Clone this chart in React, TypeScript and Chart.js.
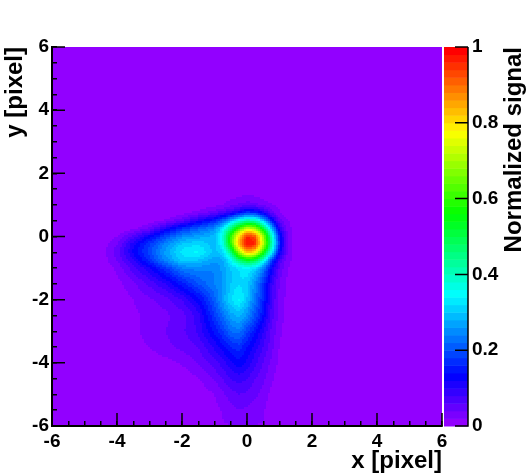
import React, { useEffect, useRef } from "react";
import { Chart, registerables } from "chart.js";

Chart.register(...registerables);

const gridX = [-5, -4.5, -4, -3.5, -3, -2.5, -2, -1.5, -1, -0.75, -0.5, -0.25, 0, 0.25, 0.5, 0.75, 1, 1.25, 1.5, 2];
const gridY = [1.5, 1, 0.75, 0.5, 0.25, 0, -0.25, -0.5, -0.75, -1, -1.5, -2, -2.5, -3, -3.5, -4, -4.5, -5, -5.5, -6];
const signal = [
  [0, 0, 0, 0, 0, 0, 0, 0, 0, 0, 0, 0, 0.005, 0, 0, 0, 0, 0, 0, 0],
  [0, 0, 0, 0, 0, 0, 0, 0.005, 0.012, 0.018, 0.03, 0.04, 0.05, 0.045, 0.03, 0.022, 0.012, 0.005, 0, 0],
  [0, 0, 0, 0, 0, 0, 0.01, 0.025, 0.05, 0.07, 0.09, 0.13, 0.17, 0.16, 0.11, 0.05, 0.022, 0.01, 0.005, 0],
  [0, 0, 0, 0, 0.006, 0.02, 0.055, 0.11, 0.16, 0.21, 0.29, 0.37, 0.43, 0.41, 0.3, 0.15, 0.045, 0.02, 0.01, 0],
  [0, 0, 0.002, 0.012, 0.04, 0.11, 0.17, 0.21, 0.25, 0.33, 0.47, 0.62, 0.74, 0.71, 0.53, 0.3, 0.1, 0.028, 0.01, 0],
  [0, 0.002, 0.018, 0.07, 0.13, 0.19, 0.25, 0.27, 0.29, 0.37, 0.6, 0.82, 0.98, 0.94, 0.7, 0.42, 0.15, 0.035, 0.01, 0],
  [0, 0.005, 0.04, 0.115, 0.18, 0.25, 0.31, 0.32, 0.29, 0.35, 0.6, 0.85, 1, 0.97, 0.73, 0.43, 0.16, 0.035, 0.01, 0],
  [0, 0.006, 0.05, 0.125, 0.19, 0.27, 0.33, 0.35, 0.29, 0.31, 0.44, 0.7, 0.85, 0.8, 0.59, 0.35, 0.13, 0.035, 0.012, 0],
  [0, 0.005, 0.04, 0.1, 0.17, 0.25, 0.31, 0.3, 0.265, 0.275, 0.34, 0.46, 0.54, 0.5, 0.38, 0.19, 0.07, 0.028, 0.01, 0],
  [0, 0.002, 0.025, 0.07, 0.115, 0.175, 0.24, 0.25, 0.24, 0.265, 0.3, 0.32, 0.34, 0.31, 0.24, 0.13, 0.055, 0.02, 0.008, 0],
  [0, 0, 0.012, 0.035, 0.065, 0.1, 0.15, 0.2, 0.24, 0.26, 0.3, 0.32, 0.31, 0.25, 0.17, 0.09, 0.035, 0.015, 0.005, 0],
  [0, 0, 0.004, 0.02, 0.035, 0.05, 0.08, 0.13, 0.21, 0.27, 0.32, 0.35, 0.3, 0.23, 0.16, 0.08, 0.035, 0.012, 0.005, 0],
  [0, 0, 0, 0.015, 0.025, 0.035, 0.05, 0.09, 0.18, 0.225, 0.27, 0.29, 0.255, 0.195, 0.14, 0.07, 0.03, 0.012, 0.003, 0],
  [0, 0, 0, 0.014, 0.03, 0.04, 0.055, 0.085, 0.145, 0.18, 0.22, 0.235, 0.185, 0.145, 0.1, 0.055, 0.025, 0.008, 0, 0],
  [0, 0, 0, 0.006, 0.022, 0.035, 0.045, 0.06, 0.105, 0.13, 0.16, 0.172, 0.14, 0.11, 0.078, 0.048, 0.018, 0.005, 0, 0],
  [0, 0, 0, 0, 0.002, 0.012, 0.022, 0.042, 0.072, 0.09, 0.115, 0.135, 0.115, 0.085, 0.06, 0.035, 0.014, 0.003, 0, 0],
  [0, 0, 0, 0, 0, 0.002, 0.006, 0.018, 0.042, 0.06, 0.08, 0.09, 0.08, 0.06, 0.045, 0.024, 0.009, 0, 0, 0],
  [0, 0, 0, 0, 0, 0, 0, 0.005, 0.02, 0.035, 0.05, 0.06, 0.055, 0.045, 0.03, 0.015, 0.005, 0, 0, 0],
  [0, 0, 0, 0, 0, 0, 0, 0, 0.012, 0.022, 0.03, 0.04, 0.035, 0.03, 0.022, 0.01, 0.002, 0, 0, 0],
  [0, 0, 0, 0, 0, 0, 0, 0, 0.008, 0.018, 0.025, 0.03, 0.028, 0.025, 0.02, 0.008, 0, 0, 0, 0],
];

const xMajorTicks = [-6, -4, -2, 0, 2, 4, 6];
const yMajorTicks = [-6, -4, -2, 0, 2, 4, 6];
const zTicks = [0, 0.2, 0.4, 0.6, 0.8, 1];
const xTitle = "x [pixel]";
const yTitle = "y [pixel]";
const zTitle = "Normalized signal";
const PALETTE_SIZE = 50;

const FONT = "'Liberation Sans', Arial, sans-serif";

function paletteColor(i: number) {
  return `hsl(${280 - ((i + 1) * 280) / PALETTE_SIZE}, 100%, 50%)`;
}

function bracket(nodes: number[], v: number) {
  const asc = nodes[0] < nodes[nodes.length - 1];
  for (let i = 0; i < nodes.length - 1; i++) {
    const a = nodes[i];
    const b = nodes[i + 1];
    if (asc ? v >= a && v <= b : v <= a && v >= b) return { i, t: (v - a) / (b - a) };
  }
  return null;
}

function sample(x: number, y: number) {
  const bx = bracket(gridX, x);
  const by = bracket(gridY, y);
  if (!bx || !by) return 0;
  const r0 = signal[by.i];
  const r1 = signal[by.i + 1];
  const a = r0[bx.i] * (1 - bx.t) + r0[bx.i + 1] * bx.t;
  const b = r1[bx.i] * (1 - bx.t) + r1[bx.i + 1] * bx.t;
  return a * (1 - by.t) + b * by.t;
}

function smoothSample(x: number, y: number) {
  const d = 0.1;
  return (
    (2 * sample(x, y) + sample(x - d, y) + sample(x + d, y) + sample(x, y - d) + sample(x, y + d)) / 6
  );
}

const heatmapPlugin = {
  id: "heatmap",
  beforeDatasetsDraw(chart: any) {
    const { ctx, chartArea: a, scales } = chart;
    const sx = scales.x;
    const sy = scales.y;
    ctx.save();
    ctx.fillStyle = paletteColor(0);
    ctx.fillRect(a.left, a.top, a.right - a.left, a.bottom - a.top);
    const step = 2;
    for (let py = a.top; py < a.bottom; py += step) {
      for (let px = a.left; px < a.right; px += step) {
        const v = smoothSample(sx.getValueForPixel(px + step / 2), sy.getValueForPixel(py + step / 2));
        const bin = Math.min(PALETTE_SIZE - 1, Math.floor(v * PALETTE_SIZE));
        if (bin > 0) {
          ctx.fillStyle = paletteColor(bin);
          ctx.fillRect(px, py, step, step);
        }
      }
    }
    ctx.restore();
  },
  afterDraw(chart: any) {
    const { ctx, chartArea: a, scales } = chart;
    const sx = scales.x;
    const sy = scales.y;
    const sz = scales.z;
    const barLeft = a.right + 2;
    const barRight = a.right + 26;
    ctx.save();
    for (let i = 0; i < PALETTE_SIZE; i++) {
      const yTop = sz.getPixelForValue((i + 1) / PALETTE_SIZE);
      const yBot = sz.getPixelForValue(i / PALETTE_SIZE);
      ctx.fillStyle = paletteColor(i);
      ctx.fillRect(barLeft, yTop, barRight - barLeft, yBot - yTop + 0.5);
    }
    ctx.strokeStyle = "#000";
    ctx.lineWidth = 1.5;
    ctx.beginPath();
    ctx.moveTo(barRight, a.top);
    ctx.lineTo(barRight, a.bottom + 0.75);
    for (const t of zTicks) {
      const p = sz.getPixelForValue(t);
      ctx.moveTo(barRight, p);
      ctx.lineTo(barRight - 13, p);
    }
    for (const t of xMajorTicks) {
      const p = sx.getPixelForValue(t);
      ctx.moveTo(p, a.bottom);
      ctx.lineTo(p, a.bottom - 13);
    }
    for (const t of yMajorTicks) {
      const p = sy.getPixelForValue(t);
      ctx.moveTo(a.left, p);
      ctx.lineTo(a.left + 13, p);
    }
    ctx.stroke();
    ctx.translate(514, a.top);
    ctx.rotate(-Math.PI / 2);
    ctx.fillStyle = "#000";
    ctx.font = `bold 24px ${FONT}`;
    ctx.textAlign = "right";
    ctx.textBaseline = "middle";
    ctx.fillText(zTitle, 0, 0);
    ctx.restore();
  },
};

export default function App() {
  const ref = useRef<HTMLCanvasElement>(null);
  useEffect(() => {
    const tickFont = { family: FONT, size: 19, weight: "bold" as const };
    const titleFont = { family: FONT, size: 24, weight: "bold" as const, lineHeight: 1 };
    const nodes: { x: number; y: number; v: number }[] = [];
    gridY.forEach((y, r) => gridX.forEach((x, c) => nodes.push({ x, y, v: signal[r][c] })));
    const chart = new Chart(ref.current!, {
      type: "scatter",
      data: { datasets: [{ label: "Normalized signal", data: nodes, pointRadius: 0, showLine: false }] },
      plugins: [heatmapPlugin],
      options: {
        responsive: false,
        animation: false,
        layout: { padding: { top: 47, left: 0, right: 0, bottom: 0 } },
        plugins: { legend: { display: false }, title: { display: false }, tooltip: { enabled: false } },
        scales: {
          x: {
            type: "linear",
            min: -6,
            max: 6,
            afterFit: (s: any) => { s.height = 48; },
            grid: { drawOnChartArea: false, tickLength: -5, color: "#000", lineWidth: 1.5, z: 1 },
            border: { display: true, color: "#000", width: 2, z: 1 },
            ticks: {
              stepSize: 0.5,
              autoSkip: false,
              maxRotation: 0,
              color: "#000",
              font: tickFont,
              padding: 9,
              callback: (v: any) => (xMajorTicks.includes(Number(v)) ? String(v) : ""),
            },
            title: { display: true, text: xTitle, align: "end", color: "#000", font: titleFont, padding: 1 },
          },
          y: {
            type: "linear",
            min: -6,
            max: 6,
            afterFit: (s: any) => { s.width = 52; },
            grid: { drawOnChartArea: false, tickLength: -5, color: "#000", lineWidth: 1.5, z: 1 },
            border: { display: true, color: "#000", width: 2, z: 1 },
            ticks: {
              stepSize: 0.5,
              autoSkip: false,
              color: "#000",
              font: tickFont,
              padding: 8,
              callback: (v: any) => (yMajorTicks.includes(Number(v)) ? String(v) : ""),
            },
            title: { display: true, text: yTitle, align: "end", color: "#000", font: titleFont, padding: 3 },
          },
          z: {
            type: "linear",
            axis: "y",
            position: "right",
            min: 0,
            max: 1,
            afterFit: (s: any) => { s.width = 84; },
            grid: { display: false, drawTicks: false, drawOnChartArea: false },
            border: { display: false },
            ticks: {
              stepSize: 0.2,
              color: "#000",
              font: tickFont,
              padding: 30,
              callback: (v: any) => String(Number(Number(v).toFixed(1))),
            },
          },
        },
      } as any,
    });
    return () => chart.destroy();
  }, []);
  return (
    <div style={{ position: "absolute", left: 0, top: 0, width: 526, height: 474 }}>
      <canvas ref={ref} width={526} height={474} style={{ display: "block" }} />
    </div>
  );
}
